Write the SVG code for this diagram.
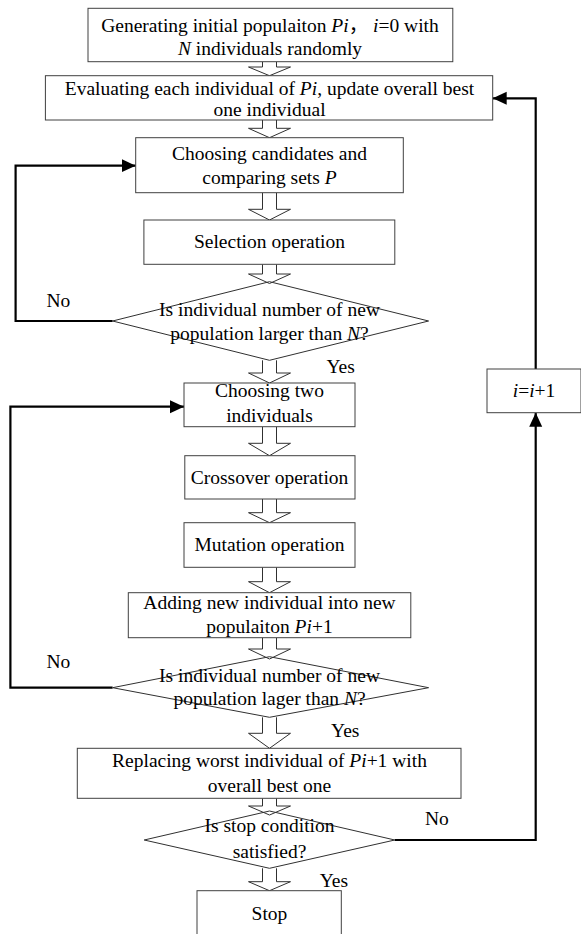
<svg xmlns="http://www.w3.org/2000/svg" width="581" height="934" viewBox="0 0 581 934">
<style>
  .box { fill: #ffffff; stroke: #404040; stroke-width: 1; }
  .dia { fill: none; stroke: #303030; stroke-width: 1; }
  .blk { fill: #ffffff; stroke: #303030; stroke-width: 1; }
  .con { fill: none; stroke: #000000; stroke-width: 2.2; }
  text { font-family: "Liberation Serif", "Times New Roman", "Noto Sans CJK SC", serif; font-size: 19.5px; fill: #000000; }
  .c { text-anchor: middle; }
  .it { font-style: italic; }
</style>
<defs>
  <marker id="ah" markerUnits="userSpaceOnUse" markerWidth="15" markerHeight="14" refX="14" refY="7" orient="auto">
    <path d="M0,0.5 L14,7 L0,13.5 Z" fill="#000000"/>
  </marker>
</defs>

<g id="block-arrows">
  <path class="blk" d="M262.5,61.7 V67 H248.5 L269.5,75.7 L290.5,67 H276.5 V61.7"/>
  <path class="blk" d="M262.5,120 V128.3 H248.5 L269.5,137.7 L290.5,128.3 H276.5 V120"/>
  <path class="blk" d="M262.5,192.7 V209.3 H248.5 L269.5,220 L290.5,209.3 H276.5 V192.7"/>
  <path class="blk" d="M262.5,264.3 V274 H248.5 L269.5,283.5 L290.5,274 H276.5 V264.3"/>
  <path class="blk" d="M262.5,360.3 V373 H248.5 L269.5,383 L290.5,373 H276.5 V360.3"/>
  <path class="blk" d="M262.5,426.7 V443.3 H248.5 L269.5,455.7 L290.5,443.3 H276.5 V426.7"/>
  <path class="blk" d="M262.5,499 V512.7 H248.5 L269.5,522.7 L290.5,512.7 H276.5 V499"/>
  <path class="blk" d="M262.5,567.3 V581.7 H248.5 L269.5,592.7 L290.5,581.7 H276.5 V567.3"/>
  <path class="blk" d="M262.5,637.7 V649 H248.5 L269.5,659 L290.5,649 H276.5 V637.7"/>
  <path class="blk" d="M262.5,717.3 V733.3 H248.5 L269.5,748.3 L290.5,733.3 H276.5 V717.3"/>
  <path class="blk" d="M262.5,798.3 V806 H248.5 L269.5,815 L290.5,806 H276.5 V798.3"/>
  <path class="blk" d="M262.5,868.3 V881.7 H248.5 L269.5,890.7 L290.5,881.7 H276.5 V868.3"/>
</g>

<g id="connectors">
  <path class="con" d="M112.6,321 H15.6 V165.7 H135.7" marker-end="url(#ah)"/>
  <path class="con" d="M112.6,687.7 H10.4 V406.7 H184" marker-end="url(#ah)"/>
  <path class="con" d="M394.8,840 H535.7 V412.7" marker-end="url(#ah)"/>
  <path class="con" d="M535.7,369 V98.3 H492.7" marker-end="url(#ah)"/>
</g>

<g id="n1">
  <rect class="box" x="88" y="8.3" width="364.8" height="53.4"/>
  <text class="c" x="270" y="32">Generating initial populaiton <tspan class="it">Pi</tspan>， <tspan class="it">i</tspan>=0 with</text>
  <text class="c" x="270" y="55"><tspan class="it">N</tspan> individuals randomly</text>
</g>

<g id="n2">
  <rect class="box" x="45.4" y="75.7" width="447.3" height="44.3"/>
  <text class="c" x="269.5" y="95">Evaluating each individual of <tspan class="it">Pi</tspan>, update overall best</text>
  <text class="c" x="269.5" y="116">one individual</text>
</g>

<g id="n3">
  <rect class="box" x="135.7" y="137.7" width="267.6" height="55"/>
  <text class="c" x="269.5" y="160">Choosing candidates and</text>
  <text class="c" x="269.5" y="184">comparing sets <tspan class="it">P</tspan></text>
</g>

<g id="n4">
  <rect class="box" x="143.9" y="220" width="250.9" height="44.3"/>
  <text class="c" x="269.5" y="248">Selection operation</text>
</g>

<g id="d1">
  <path class="dia" d="M269.5,281.7 L428.6,321 L269.5,360.3 L112.6,321 Z"/>
  <text class="c" x="269.5" y="316">Is individual number of new</text>
  <text class="c" x="269.5" y="340">population larger than <tspan class="it">N</tspan>?</text>
</g>

<g id="n5">
  <rect class="box" x="184" y="383" width="171" height="43.7"/>
  <text class="c" x="269.5" y="397">Choosing two</text>
  <text class="c" x="269.5" y="422">individuals</text>
</g>

<g id="n6">
  <rect class="box" x="184.8" y="455.7" width="170.2" height="43.3"/>
  <text class="c" x="269.5" y="484">Crossover operation</text>
</g>

<g id="n7">
  <rect class="box" x="184" y="522.7" width="171" height="44.6"/>
  <text class="c" x="269.5" y="551">Mutation operation</text>
</g>

<g id="n8">
  <rect class="box" x="128.3" y="592.7" width="282.5" height="45"/>
  <text class="c" x="269.5" y="609">Adding new individual into new</text>
  <text class="c" x="269.5" y="633">populaiton <tspan class="it">Pi</tspan>+1</text>
</g>

<g id="d2">
  <path class="dia" d="M269.5,656.7 L428.6,687.7 L269.5,717.3 L112.6,687.7 Z"/>
  <text class="c" x="269.5" y="682">Is individual number of new</text>
  <text class="c" x="269.5" y="705">population lager than <tspan class="it">N</tspan>?</text>
</g>

<g id="n9">
  <rect class="box" x="77.3" y="748.3" width="383.7" height="50"/>
  <text class="c" x="269.5" y="767">Replacing worst individual of <tspan class="it">Pi</tspan>+1 with</text>
  <text class="c" x="269.5" y="792">overall best one</text>
</g>

<g id="d3">
  <path class="dia" d="M269.5,811 L394.8,840 L269.5,868.3 L144.2,840 Z"/>
  <text class="c" x="269.5" y="832">Is stop condition</text>
  <text class="c" x="269.5" y="858">satisfied?</text>
</g>

<g id="n10">
  <rect class="box" x="197" y="890.7" width="144.3" height="50"/>
  <text class="c" x="269.5" y="920">Stop</text>
</g>

<g id="n11">
  <rect class="box" x="487" y="369" width="94" height="43.7"/>
  <text class="c" x="534" y="397"><tspan class="it">i</tspan>=<tspan class="it">i</tspan>+1</text>
</g>

<g id="labels">
  <text x="46.5" y="307">No</text>
  <text x="46.5" y="668">No</text>
  <text x="425" y="825">No</text>
  <text x="326.4" y="373">Yes</text>
  <text x="331" y="737">Yes</text>
  <text x="319.7" y="887">Yes</text>
</g>
</svg>
